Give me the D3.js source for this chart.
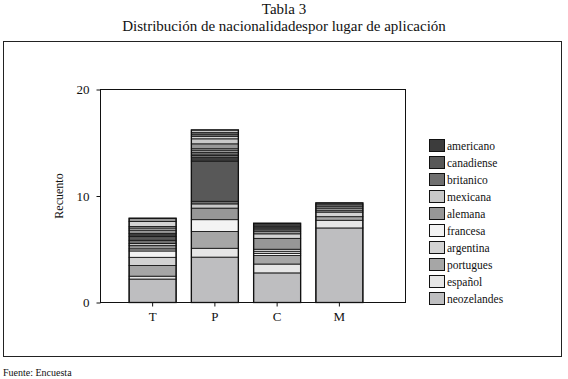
<!DOCTYPE html>
<html><head><meta charset="utf-8">
<script src="https://cdn.jsdelivr.net/npm/d3@7"></script>
<style>body{margin:0;background:#fff}svg{display:block}</style>
</head><body><svg id="c" width="568" height="379"></svg>
<script>
const categories = ["T","P","C","M"];
const nationalities = ["americano","canadiense","britanico","mexicana","alemana","francesa","argentina","portugues","español","neozelandes"];
const colors = ["#3c3c3c","#585858","#6f6f6f","#c8c8c8","#979797","#f3f3f3","#d3d3d3","#a6a6a6","#e6e6e6","#bebec0"];
const yTicks = [0,10,20];
// segments per bar, bottom to top: [nationality, count]
const segT = [["neozelandes",2.2],["español",0.27],["portugues",1.0],["argentina",0.77],["francesa",0.6],["mexicana",0.2],["alemana",0.3],["mexicana",0.2],["britanico",0.3],["canadiense",0.35],["americano",0.3],["alemana",0.3],["mexicana",0.2],["portugues",0.15],["argentina",0.47],["alemana",0.3]];
const segP = [["neozelandes",4.26],["español",0.83],["portugues",1.58],["francesa",1.11],["alemana",1.08],["mexicana",0.4],["britanico",0.24],["canadiense",3.77],["americano",0.4],["argentina",0.13],["alemana",0.15],["mexicana",0.15],["portugues",0.2],["argentina",0.14],["alemana",0.46],["mexicana",0.47],["argentina",0.23],["portugues",0.15],["britanico",0.2],["mexicana",0.25]];
const segC = [["neozelandes",2.78],["español",0.83],["portugues",0.8],["francesa",0.2],["argentina",0.2],["francesa",0.19],["alemana",1.02],["argentina",0.43],["alemana",0.25],["britanico",0.21],["canadiense",0.19],["americano",0.34]];
const segM = [["neozelandes",7.0],["español",0.72],["portugues",0.34],["argentina",0.43],["alemana",0.18],["mexicana",0.19],["alemana",0.18],["español",0.13],["britanico",0.18]];
const segments = [segT, segP, segC, segM];

const FONT = "'Liberation Serif','Times New Roman',Times,'DejaVu Serif',serif";
const svg = d3.select("#c");
const color = d3.scaleOrdinal().domain(nationalities).range(colors);
const x = d3.scaleBand().domain(categories).range([121.5, 370.5]).paddingInner(0.245).paddingOuter(0.1225);
const y = d3.scaleLinear().domain([0,20]).range([302.5, 89.5]);

function txt(sel){ return sel.attr("font-family",FONT).style("font-family",FONT).attr("fill","#111"); }

// titles
txt(svg.append("text")).attr("x",284).attr("y",14).attr("text-anchor","middle").style("font-size","15px").text("Tabla 3");
txt(svg.append("text")).attr("x",284).attr("y",31).attr("text-anchor","middle").style("font-size","15px").text("Distribución de nacionalidadespor lugar de aplicación");
// outer frame
svg.append("rect").attr("x",3.5).attr("y",41.5).attr("width",558).attr("height",315).attr("fill","none").attr("stroke","#222").attr("stroke-width",1);
txt(svg.append("text")).attr("x",3).attr("y",376).style("font-size","10px").text("Fuente: Encuesta");

// plot frame
svg.append("rect").attr("x",100.5).attr("y",y(20)).attr("width",305).attr("height",y(0)-y(20)).attr("fill","none").attr("stroke","#111");

// bars
categories.forEach((c,i)=>{
  let acc = 0;
  const g = svg.append("g");
  segments[i].forEach(([n,v])=>{
    g.append("rect").attr("x",x(c)).attr("width",x.bandwidth())
      .attr("y",y(acc+v)).attr("height",y(acc)-y(acc+v))
      .attr("fill",color(n)).attr("stroke","#1a1a1a").attr("stroke-width",0.9);
    acc += v;
  });
  g.append("rect").attr("x",x(c)).attr("width",x.bandwidth()).attr("y",y(acc)).attr("height",y(0)-y(acc))
    .attr("fill","none").attr("stroke","#111").attr("stroke-width",1.3);
});

// axes
const ya = svg.append("g").attr("transform","translate(100.5,0)").call(d3.axisLeft(y).tickValues(yTicks).tickSize(4).tickPadding(7));
const xa = svg.append("g").attr("transform",`translate(0,${y(0)})`).call(d3.axisBottom(x).tickSize(4).tickPadding(5));
[ya,xa].forEach(a=>{a.attr("font-family",FONT);a.select(".domain").remove();a.selectAll("line").attr("stroke","#111");txt(a.selectAll("text")).style("font-size","13px");});
txt(svg.append("text")).attr("transform","translate(63,196) rotate(-90)").attr("text-anchor","middle").style("font-size","12px").text("Recuento");

// legend
const lg = svg.append("g");
nationalities.forEach((n,i)=>{
  const yy = 139 + i*17;
  lg.append("rect").attr("x",429.5).attr("y",yy+0.5).attr("width",15).attr("height",12).attr("fill",colors[i]).attr("stroke","#111");
  txt(lg.append("text")).attr("x",447).attr("y",yy+10.5).style("font-size","11.5px").text(n);
});
</script></body></html>
